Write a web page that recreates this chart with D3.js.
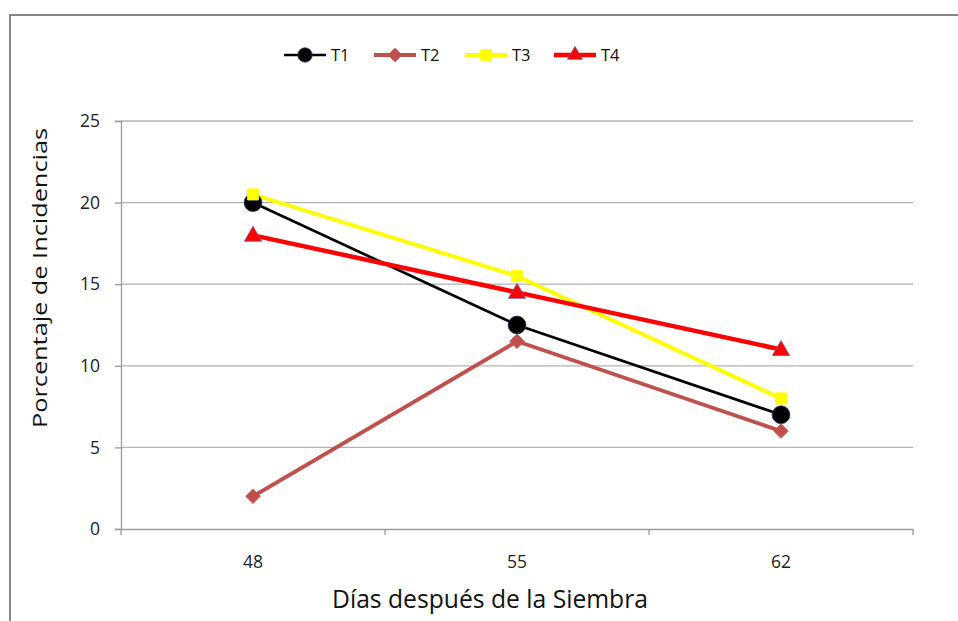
<!DOCTYPE html>
<html><head><meta charset="utf-8">
<script src="https://cdn.jsdelivr.net/npm/d3@7"></script>
<style>body{margin:0;background:#fff;}svg{display:block;font-family:"Open Sans","Liberation Sans",sans-serif;}</style>
</head><body>
<script>
const categories = ["48", "55", "62"];
const T1 = [20, 12.5, 7];
const T2 = [2, 11.5, 6];
const T3 = [20.5, 15.5, 8];
const T4 = [18, 14.5, 11];
const yTicks = [0, 5, 10, 15, 20, 25];
const seriesNames = ["T1", "T2", "T3", "T4"];

(function () {
const W = 958, H = 621;
const svg = d3.select("body").append("svg").attr("width", W).attr("height", H);

// outer frame
svg.append("rect").attr("x", 10).attr("y", 15).attr("width", 1000).attr("height", 700)
  .attr("fill", "none").attr("stroke", "#868686").attr("stroke-width", 2);

const pLeft = 121, pRight = 913, pTop = 121, pBottom = 529;
const x = d3.scaleBand().domain(categories).range([pLeft, pRight]);
const y = d3.scaleLinear().domain([0, 25]).range([pBottom, pTop]);

// gridlines
svg.append("g").selectAll("line").data(yTicks.filter(d => d > 0)).join("line")
  .attr("x1", pLeft).attr("x2", pRight).attr("y1", d => y(d)).attr("y2", d => y(d))
  .attr("stroke", "#b3b3b3").attr("stroke-width", 1.3);

// y axis
const yAxis = svg.append("g").attr("transform", `translate(${pLeft},0)`)
  .call(d3.axisLeft(y).tickValues(yTicks).tickSize(6).tickPadding(15));
yAxis.select(".domain").attr("stroke", "#9a9a9a").attr("stroke-width", 1.3);
yAxis.selectAll(".tick line").attr("stroke", "#9a9a9a").attr("stroke-width", 1.3);
yAxis.selectAll("text").attr("font-size", 17.5).attr("fill", "#222")
  .attr("font-family", "'Open Sans','Liberation Sans',sans-serif");

// x axis
const xAxis = svg.append("g").attr("transform", `translate(0,${pBottom})`)
  .call(d3.axisBottom(x).tickSize(0).tickPadding(27));
xAxis.select(".domain").attr("stroke", "#9a9a9a").attr("stroke-width", 1.3);
xAxis.selectAll("text").attr("font-size", 17.5).attr("fill", "#222")
  .attr("font-family", "'Open Sans','Liberation Sans',sans-serif");
// x category separators
const seps = categories.map(c => x(c)).concat([pRight]);
svg.append("g").selectAll("line").data(seps).join("line")
  .attr("x1", d => d).attr("x2", d => d).attr("y1", pBottom).attr("y2", pBottom + 6)
  .attr("stroke", "#9a9a9a").attr("stroke-width", 1.3);

// axis titles
svg.append("text").attr("x", 332).attr("y", 608)
  .attr("font-size", 26).attr("fill", "#111")
  .attr("textLength", 316).attr("lengthAdjust", "spacingAndGlyphs")
  .text("Días después de la Siembra");
svg.append("text").attr("transform", "translate(47,428) rotate(-90)")
  .attr("font-size", 19.5).attr("fill", "#111")
  .attr("textLength", 300).attr("lengthAdjust", "spacingAndGlyphs")
  .text("Porcentaje de Incidencias");

const cx = c => x(c) + x.bandwidth() / 2;
const styles = {
  T1: {data: T1, color: "#000000", width: 2.7, shape: d3.symbolCircle, size: 250, stroke: "#1f3a5f", rot: 0, leg: 0.65},
  T2: {data: T2, color: "#c0504d", width: 3.8, shape: d3.symbolSquare, size: 105, stroke: "#c0504d", rot: 45, leg: 0.9},
  T3: {data: T3, color: "#ffff00", width: 4, shape: d3.symbolSquare, size: 125, stroke: "#ffff00", rot: 0, leg: 0.9},
  T4: {data: T4, color: "#ff0000", width: 4.5, shape: d3.symbolTriangle, size: 130, stroke: "#7a5a9a", rot: 0, leg: 0.75}
};
const line = d3.line().x((d, i) => cx(categories[i])).y(d => y(d));

seriesNames.forEach(name => {
  const s = styles[name];
  svg.append("path").attr("d", line(s.data)).attr("fill", "none")
    .attr("stroke", s.color).attr("stroke-width", s.width).attr("stroke-linejoin", "round");
});
seriesNames.forEach(name => {
  const s = styles[name];
  svg.append("g").selectAll("path").data(s.data).join("path")
    .attr("d", d3.symbol().type(s.shape).size(s.size))
    .attr("transform", (d, i) => `translate(${cx(categories[i])},${y(d) + (name === "T4" ? 1 : 0)}) rotate(${s.rot})`)
    .attr("fill", s.color).attr("stroke", s.stroke).attr("stroke-width", 0.8);
});

// legend
const legX = [284, 374, 465, 554];
const lg = svg.append("g");
seriesNames.forEach((name, i) => {
  const s = styles[name];
  const g = lg.append("g").attr("transform", `translate(${legX[i]},55)`);
  g.append("line").attr("x1", 0).attr("x2", 42).attr("y1", 0).attr("y2", 0)
    .attr("stroke", s.color).attr("stroke-width", s.width);
  g.append("path").attr("d", d3.symbol().type(s.shape).size(s.size * s.leg))
    .attr("transform", `translate(21,0) rotate(${s.rot})`).attr("fill", s.color).attr("stroke", s.stroke).attr("stroke-width", 0.8);
  g.append("text").attr("x", 47).attr("y", 61 - 55).attr("font-size", 16.5).attr("fill", "#111").text(name);
});
})();
</script>
</body></html>
